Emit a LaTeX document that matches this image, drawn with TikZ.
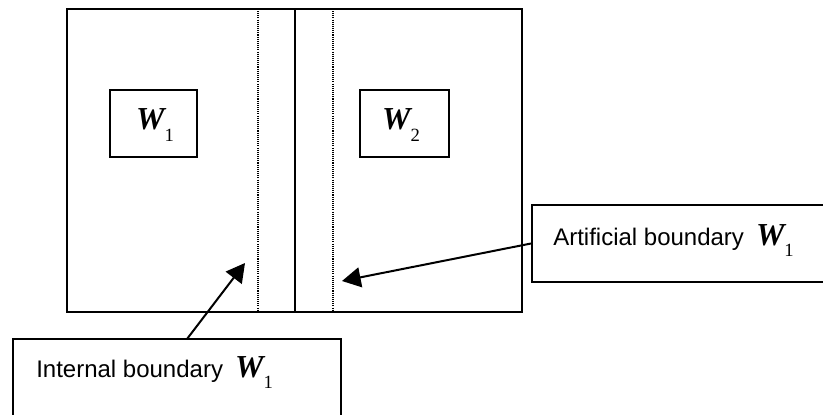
\documentclass[tikz,border=0pt]{standalone}
\usepackage{fontspec}
\setmainfont{Liberation Serif}
\newfontfamily\arialfont{Liberation Sans}
\newfontfamily\timesfont{Liberation Serif}
\usetikzlibrary{arrows.meta}
\newcommand\Wsym[1]{{\timesfont\fontsize{24}{24}\selectfont\bfseries\itshape W}\raisebox{-8.5pt}{\timesfont\fontsize{14}{14}\selectfont\mdseries\upshape #1}}
\tikzset{
  boxnode/.style={draw, line width=1.5pt, inner sep=0pt, rectangle},
  dotline/.style={line width=0.9pt, dash pattern=on 0.8pt off 0.8pt},
  solidline/.style={line width=1.5pt},
  arrowline/.style={line width=1.5pt, -{Triangle[length=14pt,width=15pt]}},
  lbl/.style={inner sep=0pt, anchor=base west, font=\arialfont\fontsize{18}{18}\selectfont},
  wlabel/.style={inner sep=0pt}
}
\begin{document}
\begin{tikzpicture}[x=0.75pt,y=-0.75pt]
\useasboundingbox (0,0) rectangle (823,414);
\clip (0,0) rectangle (823,414);
% outer domain
\node[boxnode, minimum width=341.25pt, minimum height=227.25pt] (outer) at (294.5,160.5) {};
\coordinate (midtop) at (295,9);
\coordinate (midbot) at (295,312);
\draw[solidline] (midtop) -- (midbot);
\coordinate (dltop) at (258,11);
\coordinate (dlbot) at (258,311);
\coordinate (drtop) at (333,11);
\coordinate (drbot) at (333,311);
\draw[dotline] (dltop) -- (dlbot);
\draw[dotline] (drtop) -- (drbot);
% subdomains
\node[boxnode, minimum width=65.25pt, minimum height=50.25pt] (w1) at (153.5,123.5) {};
\node[wlabel] (w1t) at (155,125) {\Wsym{1}};
\node[boxnode, minimum width=66.75pt, minimum height=50.25pt] (w2) at (404.5,123.5) {};
\node[wlabel] (w2t) at (401,125) {\Wsym{2}};
% artificial boundary label
\node[boxnode, minimum width=223.5pt, minimum height=57.75pt] (art) at (681,243.5) {};
\node[lbl] (artt) at (553,245) {Artificial boundary\hspace{9pt}\Wsym{1}};
% internal boundary label
\node[boxnode, minimum width=246pt, minimum height=68.25pt] (int) at (177,384.5) {};
\node[lbl] (intt) at (36,377) {Internal boundary\hspace{9pt}\Wsym{1}};
% arrows
\coordinate (arttip) at (342,281);
\coordinate (intstart) at (187,339);
\coordinate (inttip) at (245,263);
\draw[arrowline] (art.west) -- (arttip);
\draw[arrowline] (intstart) -- (inttip);
\end{tikzpicture}
\end{document}
